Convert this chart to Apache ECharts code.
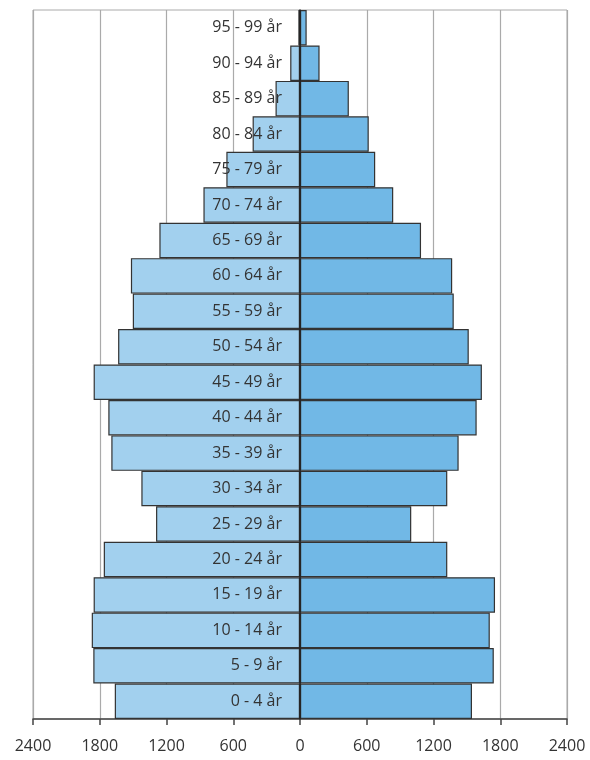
<!DOCTYPE html>
<html>
<head>
<meta charset="utf-8">
<script src="https://cdn.jsdelivr.net/npm/echarts@6/dist/echarts.min.js"></script>
<style>
html,body{margin:0;padding:0;background:#fff;}
#chart{width:590px;height:760px;}
</style>
</head>
<body>
<div id="chart"></div>
<script>
var categories = ['0 - 4 år','5 - 9 år','10 - 14 år','15 - 19 år','20 - 24 år','25 - 29 år','30 - 34 år','35 - 39 år','40 - 44 år','45 - 49 år','50 - 54 år','55 - 59 år','60 - 64 år','65 - 69 år','70 - 74 år','75 - 79 år','80 - 84 år','85 - 89 år','90 - 94 år','95 - 99 år'];
var leftValues = [1665, 1858, 1872, 1855, 1764, 1294, 1426, 1696, 1723, 1855, 1635, 1503, 1520, 1264, 868, 662, 426, 220, 88, 15];
var rightValues = [1546, 1742, 1706, 1753, 1324, 1000, 1324, 1426, 1588, 1635, 1517, 1382, 1368, 1088, 838, 676, 618, 439, 176, 60];
var tickLabels = {'-2400':'2400','-1800':'1800','-1200':'1200','-600':'600','0':'0','600':'600','1200':'1200','1800':'1800','2400':'2400'};

var chart = echarts.init(document.getElementById('chart'), null, {renderer:'canvas'});
chart.setOption({
  animation: false,
  backgroundColor: '#fff',
  grid: {left: 33, right: 23, top: 10, bottom: 41, containLabel: false, outerBoundsMode: 'none',
         show: true, borderColor: '#aaa', borderWidth: 1, backgroundColor: 'transparent'},
  xAxis: {
    type: 'value', min: -2400, max: 2400, interval: 600,
    axisLine: {show: true, lineStyle: {color: '#444', width: 1.5}},
    axisTick: {show: true, length: 6, lineStyle: {color: '#444', width: 1.5}},
    splitLine: {show: true, lineStyle: {color: '#aaa', width: 1.2}},
    axisLabel: {
      margin: 19, color: '#333', fontSize: 16, fontFamily: 'Open Sans',
      formatter: function (v) { return tickLabels[String(v)]; }
    }
  },
  yAxis: {
    type: 'category', data: categories, z: 10,
    axisLine: {show: true, onZero: true, lineStyle: {color: '#222', width: 1.5}},
    axisTick: {show: false},
    splitLine: {show: false},
    axisLabel: {show: false}
  },
  series: [
    {
      name: 'left', type: 'bar', stack: 'pop', barCategoryGap: 0,
      data: leftValues.map(function (v) { return -v; }),
      itemStyle: {color: '#A2D0EE', borderColor: '#333', borderWidth: 1.2},
      label: {show: true, position: 'insideRight', distance: 18, formatter: '{b}',
              color: '#333', fontSize: 16, fontFamily: 'Open Sans'}
    },
    {
      name: 'right', type: 'bar', stack: 'pop', barCategoryGap: 0,
      data: rightValues,
      itemStyle: {color: '#71B8E6', borderColor: '#333', borderWidth: 1.2}
    }
  ]
});
</script>
</body>
</html>
